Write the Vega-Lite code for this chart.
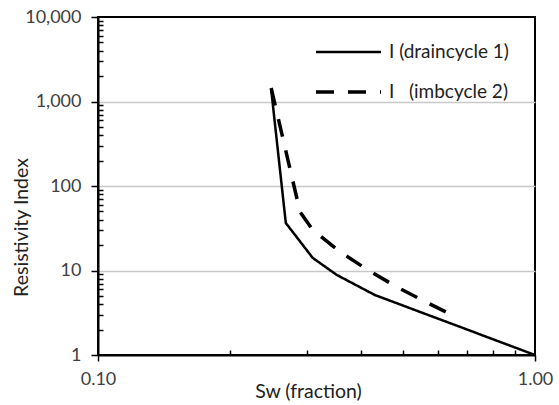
{
  "$schema": "https://vega.github.io/schema/vega-lite/v6.json",
  "autosize": "none",
  "width": 437,
  "height": 338,
  "padding": {"left": 98, "top": 17, "right": 24, "bottom": 50},
  "background": "white",
  "config": {
    "font": "Lato",
    "view": {"stroke": "black", "strokeWidth": 2},
    "axis": {
      "labelFont": "Lato",
      "labelFontSize": 18,
      "labelColor": "#404040",
      "titleFont": "Lato",
      "titleFontSize": 19.5,
      "titleFontWeight": "normal",
      "titleColor": "#222222",
      "domainColor": "black",
      "domainWidth": 2,
      "tickColor": "black",
      "tickWidth": 1.5
    }
  },
  "data": {
    "values": [
      {"series": "I (draincycle 1)", "order": 1, "sw": 0.249, "ri": 1406},
      {"series": "I (draincycle 1)", "order": 2, "sw": 0.269, "ri": 36.5},
      {"series": "I (draincycle 1)", "order": 3, "sw": 0.310, "ri": 14.1},
      {"series": "I (draincycle 1)", "order": 4, "sw": 0.352, "ri": 8.85},
      {"series": "I (draincycle 1)", "order": 5, "sw": 0.430, "ri": 5.13},
      {"series": "I (draincycle 1)", "order": 6, "sw": 0.554, "ri": 3.14},
      {"series": "I (draincycle 1)", "order": 7, "sw": 0.684, "ri": 2.09},
      {"series": "I (draincycle 1)", "order": 8, "sw": 0.777, "ri": 1.63},
      {"series": "I (draincycle 1)", "order": 9, "sw": 1.0, "ri": 1.0},
      {"series": "I\u00a0\u00a0\u00a0(imbcycle 2)", "order": 1, "sw": 0.249, "ri": 1445},
      {"series": "I\u00a0\u00a0\u00a0(imbcycle 2)", "order": 2, "sw": 0.290, "ri": 49.3},
      {"series": "I\u00a0\u00a0\u00a0(imbcycle 2)", "order": 3, "sw": 0.310, "ri": 30.2},
      {"series": "I\u00a0\u00a0\u00a0(imbcycle 2)", "order": 4, "sw": 0.358, "ri": 16.6},
      {"series": "I\u00a0\u00a0\u00a0(imbcycle 2)", "order": 5, "sw": 0.415, "ri": 10.1},
      {"series": "I\u00a0\u00a0\u00a0(imbcycle 2)", "order": 6, "sw": 0.483, "ri": 6.38},
      {"series": "I\u00a0\u00a0\u00a0(imbcycle 2)", "order": 7, "sw": 0.563, "ri": 4.24},
      {"series": "I\u00a0\u00a0\u00a0(imbcycle 2)", "order": 8, "sw": 0.659, "ri": 2.82}
    ]
  },
  "mark": {"type": "line", "color": "black", "clip": true},
  "encoding": {
    "x": {
      "field": "sw",
      "type": "quantitative",
      "scale": {"type": "log", "domain": [0.1, 1], "nice": false},
      "axis": {
        "title": "Sw (fraction)",
        "values": [0.1, 0.2, 0.3, 0.4, 0.5, 0.6, 0.7, 0.8, 0.9, 1.0],
        "labelExpr": "datum.value < 0.15 || datum.value > 0.95 ? format(datum.value, '.2f') : ''",
        "labelFlush": false,
        "tickSize": {"condition": {"test": "datum.value < 0.15 || datum.value > 0.95", "value": 6}, "value": -5},
        "labelPadding": 9,
        "titleBaseline": "alphabetic",
        "titleY": 42,
        "titleX": 210,
        "grid": false
      }
    },
    "y": {
      "field": "ri",
      "type": "quantitative",
      "scale": {"type": "log", "domain": [1, 10000], "nice": false},
      "axis": {
        "title": "Resistivity Index",
        "values": [1,2,3,4,5,6,7,8,9,10,20,30,40,50,60,70,80,90,100,200,300,400,500,600,700,800,900,1000,2000,3000,4000,5000,6000,7000,8000,9000,10000],
        "labelExpr": "indexof([1,10,100,1000,10000], datum.value) >= 0 ? format(datum.value, ',') : ''",
        "labelFlush": false,
        "tickSize": {"condition": {"test": "indexof([1,10,100,1000,10000], datum.value) >= 0", "value": 7}, "value": -5},
        "grid": true,
        "gridColor": "#c8c8c8",
        "gridWidth": 1.5,
        "gridOpacity": {"condition": {"test": "indexof([10,100,1000], datum.value) >= 0", "value": 1}, "value": 0},
        "labelPadding": 10,
        "titleBaseline": "middle",
        "titleX": -77,
        "titleY": 210
      }
    },
    "order": {"field": "order", "type": "quantitative"},
    "strokeDash": {
      "field": "series",
      "type": "nominal",
      "scale": {"domain": ["I (draincycle 1)", "I\u00a0\u00a0\u00a0(imbcycle 2)"], "range": [[1, 0], [18, 14]]},
      "legend": {
        "title": null,
        "orient": "none",
        "legendX": 216,
        "legendY": 20,
        "symbolType": "stroke",
        "symbolSize": 4225,
        "symbolStrokeWidth": 3,
        "symbolStrokeColor": "black",
        "labelFont": "Lato",
        "labelFontSize": 19,
        "labelColor": "#222222",
        "labelOffset": 6,
        "clipHeight": 30,
        "rowPadding": 10
      }
    },
    "strokeWidth": {
      "field": "series",
      "type": "nominal",
      "scale": {"domain": ["I (draincycle 1)", "I\u00a0\u00a0\u00a0(imbcycle 2)"], "range": [2.5, 3.5]},
      "legend": null
    }
  }
}
